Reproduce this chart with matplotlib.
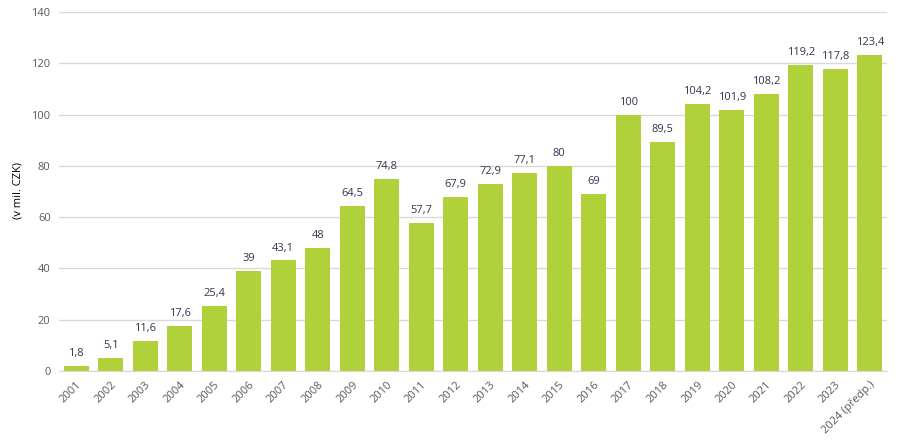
import matplotlib
matplotlib.use("Agg")
import matplotlib.pyplot as plt

plt.rcParams['font.family'] = ['Open Sans', 'DejaVu Sans']

categories = ["2001", "2002", "2003", "2004", "2005", "2006", "2007", "2008", "2009", "2010",
              "2011", "2012", "2013", "2014", "2015", "2016", "2017", "2018", "2019", "2020",
              "2021", "2022", "2023", "2024 (předp.)"]
values = [1.8, 5.1, 11.6, 17.6, 25.4, 39, 43.1, 48, 64.5, 74.8,
          57.7, 67.9, 72.9, 77.1, 80, 69, 100, 89.5, 104.2, 101.9,
          108.2, 119.2, 117.8, 123.4]
y_ticks = [0, 20, 40, 60, 80, 100, 120, 140]

fig = plt.figure(figsize=(8.99, 4.43), dpi=100)
ax = fig.add_axes([0.0656, 0.1625, 0.9211, 0.8104])

x = list(range(len(categories)))
ax.bar(x, values, width=0.72, color="#B0D13A", zorder=2)

def fmt(v):
    return ("%g" % v).replace(".", ",")

for xi, v in zip(x, values):
    ax.annotate(fmt(v), (xi, v), xytext=(0, 5), textcoords="offset points",
                ha="center", va="bottom", fontsize=8, color="#2F3650")

ax.set_ylim(0, 140)
ax.set_xlim(-0.5, len(categories) - 0.5)
ax.set_yticks(y_ticks)
ax.set_yticklabels([str(t) for t in y_ticks], fontsize=8, color="#595959")
ax.set_xticks(x)
ax.set_xticklabels(categories, rotation=45, ha="right", rotation_mode="anchor", fontsize=8, color="#595959")
ax.tick_params(axis="both", length=0, pad=6)
ax.grid(axis="y", color="#D9D9D9", linewidth=1, zorder=0)
for s in ["top", "right", "left"]:
    ax.spines[s].set_visible(False)
ax.spines["bottom"].set_color("#D9D9D9")
fig.text(18 / 899, 1 - 190 / 443, "(v mil. CZK)", rotation=90, ha="center", va="center",
         fontsize=8, color="#000000")

fig.savefig("out.png", dpi=100)
